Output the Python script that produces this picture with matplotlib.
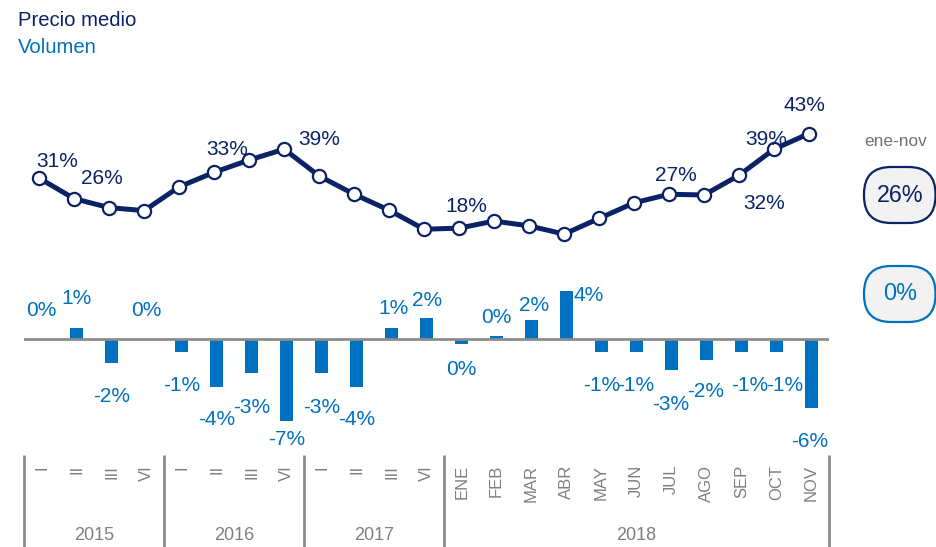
import matplotlib
matplotlib.use('Agg')
import matplotlib.pyplot as plt
import matplotlib.transforms as mtransforms
from matplotlib.patches import FancyBboxPatch

plt.rcParams['font.family'] = ['Liberation Sans', 'DejaVu Sans']

# ---------------- data ----------------
years = ['2015', '2016', '2017', '2018']
year_counts = [4, 4, 4, 11]
periods = ['I', 'II', 'III', 'VI', 'I', 'II', 'III', 'VI', 'I', 'II', 'III', 'VI',
           'ENE', 'FEB', 'MAR', 'ABR', 'MAY', 'JUN', 'JUL', 'AGO', 'SEP', 'OCT', 'NOV']
precio = [31.0, 25.5, 23.1, 22.3, 28.7, 32.6, 35.9, 38.8, 31.6, 26.7, 22.4, 17.3,
          17.6, 19.5, 18.2, 16.0, 20.2, 24.4, 26.7, 26.5, 31.8, 38.8, 43.0]
volumen = [0.0, 0.94, -2.0, 0.0, -1.09, -4.05, -2.9, -6.98, -2.9, -4.05, 0.94, 1.85,
           -0.38, 0.26, 1.62, 4.15, -1.09, -1.09, -2.65, -1.77, -1.09, -1.09, -5.85]
precio_labeled = [0, 1, 5, 7, 12, 18, 20, 21, 22]
ytd_label = 'ene-nov'
ytd_precio = 26
ytd_volumen = 0
series_names = ['Precio medio', 'Volumen']

# ---------------- style ----------------
NAVY = '#0b2265'
BLUE = '#0070c0'
GRAY = '#8c8c8c'
TICKGRAY = '#7f7f7f'
W, H = 937, 547
DPI = 100

# label offsets (pixels) for the line labels (same order as precio_labeled)
line_lbl_off = [(15, 17), (25, 20), (10, 23), (32, 10), (5, 22), (4, 19), (23, -28), (-10, 10), (-7, 28)]
# label offsets (pixels) for bar labels, relative to bar tip
bar_lbl_off = [(0, 29), (0, 30), (0, -34), (0, 29), (0, -33), (0, -33), (0, -34), (0, -19),
               (0, -34), (0, -33), (2, 20), (0, 17), (0, -26), (0, 19), (2, 15), (22, -5),
               (0, -33), (-1, -33), (-1, -34), (-1, -32), (8, -33), (8, -33), (-2, -34)]

fig = plt.figure(figsize=(W / DPI, H / DPI), dpi=DPI)
fig.patch.set_facecolor('white')

x = list(range(len(periods)))
left = 24.3 / W
width = (829 - 24.3) / W

# ---------- line axes ----------
ax1 = fig.add_axes([left, 1 - 260 / H, width, 170 / H])
ax1.set_xlim(-0.5, len(periods) - 0.5)
ax1.set_ylim(9.04, 54.7)
ax1.axis('off')
shift = ax1.transData + mtransforms.ScaledTranslation(-2.5 / DPI, 0, fig.dpi_scale_trans)
ax1.plot(x, precio, color=NAVY, lw=3.6, marker='o', markersize=9.5,
         markerfacecolor='white', markeredgecolor=NAVY, markeredgewidth=1.6,
         transform=shift, clip_on=False, zorder=3)
for k, i in enumerate(precio_labeled):
    dx, dy = line_lbl_off[k]
    ax1.annotate(f"{round(precio[i])}%", xy=(x[i], precio[i]), xytext=(dx, dy),
                 textcoords='offset pixels', ha='center', va='center',
                 fontsize=15, color=NAVY, annotation_clip=False, zorder=4)

# ---------- bar axes ----------
ax2 = fig.add_axes([left, 1 - 455 / H, width, 185 / H])
ax2.set_xlim(-0.5, len(periods) - 0.5)
ax2.set_ylim(-9.89, 5.92)
ax2.axis('off')
ax2.bar(x, volumen, width=0.37, color=BLUE, zorder=2)
ax2.axhline(0, color=GRAY, lw=2.0, zorder=3)
for i, v in enumerate(volumen):
    dx, dy = bar_lbl_off[i]
    ax2.annotate(f"{round(v)}%", xy=(x[i], v), xytext=(dx, dy),
                 textcoords='offset pixels', ha='center', va='center',
                 fontsize=15, color=BLUE, annotation_clip=False)

# ---------- category axis ----------
ax3 = fig.add_axes([left, 0, width, 92 / H])
ax3.set_xlim(-0.5, len(periods) - 0.5)
ax3.set_ylim(0, 1)
ax3.axis('off')


def fy3(p):
    return (H - p) / 92


bounds = [-0.5]
for c in year_counts:
    bounds.append(bounds[-1] + c)
for b in bounds:
    ax3.plot([b, b], [fy3(455), fy3(547)], color=GRAY, lw=2.0, clip_on=False,
             solid_capstyle='butt')
for i, p in enumerate(periods):
    ax3.text(x[i], fy3(465), p, rotation=90, ha='center', va='top',
             fontsize=12, color=TICKGRAY)
for j, yname in enumerate(years):
    ax3.text((bounds[j] + bounds[j + 1]) / 2, fy3(536), yname, ha='center', va='center',
             fontsize=13, color=TICKGRAY)

# ---------- titles ----------
fig.text(18 / W, 1 - 21 / H, series_names[0], ha='left', va='center', fontsize=14.6, color=NAVY)
fig.text(18 / W, 1 - 48 / H, series_names[1], ha='left', va='center', fontsize=14.6, color=BLUE)

# ---------- ytd pills ----------
fig.text(896 / W, 1 - 141 / H, ytd_label, ha='center', va='center', fontsize=12.4, color='#707070')


def pill(x0, y0, x1, y1, edge, txt, color):
    p = FancyBboxPatch((x0 / DPI, (H - y1) / DPI), (x1 - x0) / DPI, (y1 - y0) / DPI,
                       boxstyle='round,pad=0,rounding_size=0.27',
                       transform=fig.dpi_scale_trans, facecolor='#f2f2f2',
                       edgecolor=edge, lw=1.6)
    fig.add_artist(p)
    fig.text((x0 + x1) / 2 / W, 1 - (y0 + y1) / 2 / H, txt, ha='center', va='center',
             fontsize=16.8, color=color)


pill(864, 167, 935.5, 223, NAVY, f"{ytd_precio}%", NAVY)
pill(864, 266, 935.5, 322, BLUE, f"{ytd_volumen}%", BLUE)

fig.savefig('out.png', dpi=DPI)
